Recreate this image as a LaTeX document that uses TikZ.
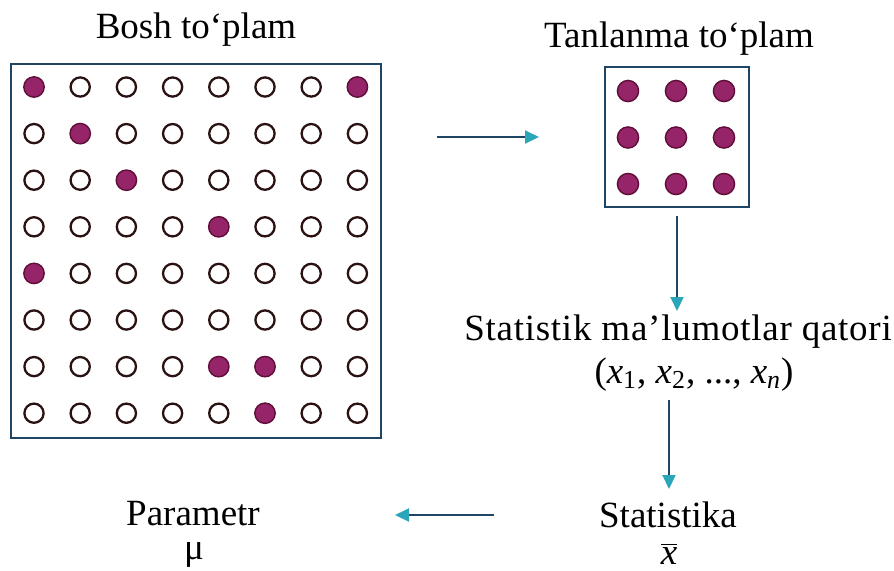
\documentclass[tikz,border=0pt]{standalone}
\usepackage{fontspec}
\setmainfont{Liberation Serif}
\usetikzlibrary{arrows.meta}
\definecolor{boxline}{HTML}{1E4563}
\definecolor{tipcol}{HTML}{2BA6B8}
\definecolor{dotfill}{HTML}{962468}
\definecolor{dotline}{HTML}{5E0E38}
\definecolor{ringcol}{HTML}{2A1212}
\begin{document}
\begin{tikzpicture}[x=0.5pt,y=-0.5pt,
  frame/.style={draw=boxline,line width=1.2pt,inner sep=0pt},
  opendot/.style={circle,draw=ringcol,line width=1.15pt,fill=white,minimum size=9.6pt,inner sep=0pt},
  fulldot/.style={circle,draw=dotline,line width=0.7pt,fill=dotfill,minimum size=10.2pt,inner sep=0pt},
  lbl/.style={font=\fontsize{18.5}{21}\selectfont,inner sep=0pt,anchor=base},
  flow/.style={draw=boxline,line width=1pt,-{Triangle[length=7pt,width=6.5pt,color=tipcol]}}]
\useasboundingbox (0,0) rectangle (894,570);
% population
\node[frame,minimum width=185pt,minimum height=187pt] (pop) at (196,251) {};
\foreach \pat [count=\r] in {{1,0,0,0,0,0,0,1},{0,1,0,0,0,0,0,0},{0,0,1,0,0,0,0,0},{0,0,0,0,1,0,0,0},{1,0,0,0,0,0,0,0},{0,0,0,0,0,0,0,0},{0,0,0,0,1,1,0,0},{0,0,0,0,0,1,0,0}}{
  \foreach \f [count=\c] in \pat {
    \ifnum\f=1
      \node[fulldot] (p\r\c) at ({34+(\c-1)*46.2},{87+(\r-1)*46.6}) {};
    \else
      \node[opendot] (p\r\c) at ({34+(\c-1)*46.2},{87+(\r-1)*46.6}) {};
    \fi
  }
}
% sample
\node[frame,minimum width=72pt,minimum height=70pt] (samp) at (677,137) {};
\foreach \r in {1,2,3}{
  \foreach \c in {1,2,3}{
    \node[fulldot,minimum size=10.6pt] (s\r\c) at ({628+(\c-1)*48},{91+(\r-1)*46.5}) {};
  }
}
% labels
\node[lbl] (popt) at (196,38) {Bosh to‘plam};
\node[lbl] (sampt) at (679,47) {Tanlanma to‘plam};
\node[lbl] (row) at (678,340) {\addfontfeature{LetterSpace=2}Statistik ma’lumotlar qatori};
\node[lbl] (rowx) at (694,383) {(\textit{x}\textsubscript{1}, \textit{x}\textsubscript{2}, ..., \textit{x}\textsubscript{\itshape n})};
\node[lbl] (stat) at (668,527) {Statistika};
\node[lbl] (statx) at (669,564) {$\overline{\hbox{\itshape x}}$};
\node[lbl] (par) at (193,525) {Parametr};
\node[lbl] (parmu) at (194,559) {μ};
% arrows
\coordinate (a1s) at (437,137);
\coordinate (a1e) at (539,137);
\coordinate (a2s) at (677,216);
\coordinate (a2e) at (677,311);
\coordinate (a3s) at (669,400);
\coordinate (a3e) at (669,489);
\coordinate (a4s) at (494,515);
\coordinate (a4e) at (395,515);
\draw[flow] (a1s) -- (a1e);
\draw[flow] (a2s) -- (a2e);
\draw[flow] (a3s) -- (a3e);
\draw[flow] (a4s) -- (a4e);
\end{tikzpicture}
\end{document}
